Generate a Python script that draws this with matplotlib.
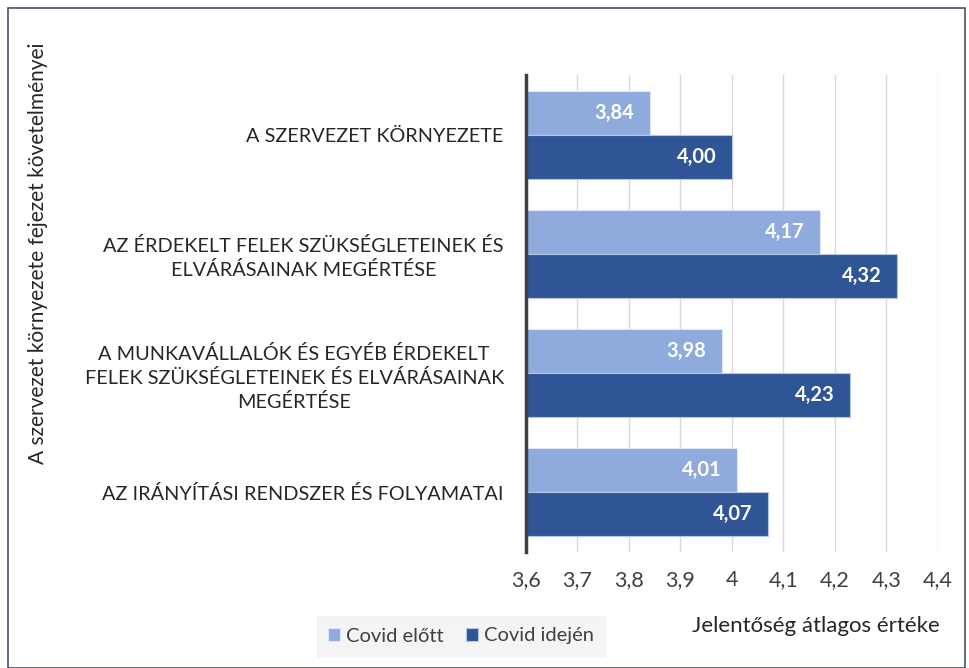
import numpy as np
import matplotlib.pyplot as plt
from matplotlib.patches import Rectangle

plt.rcParams['font.family'] = ['Lato', 'DejaVu Sans']

categories = ["A SZERVEZET KÖRNYEZETE",
              "AZ ÉRDEKELT FELEK SZÜKSÉGLETEINEK ÉS\nELVÁRÁSAINAK MEGÉRTÉSE",
              "A MUNKAVÁLLALÓK ÉS EGYÉB ÉRDEKELT\nFELEK SZÜKSÉGLETEINEK ÉS ELVÁRÁSAINAK\nMEGÉRTÉSE",
              "AZ IRÁNYÍTÁSI RENDSZER ÉS FOLYAMATAI"]
beforeCovid = [3.84, 4.17, 3.98, 4.01]
duringCovid = [4.00, 4.32, 4.23, 4.07]
xticks = [3.6, 3.7, 3.8, 3.9, 4.0, 4.1, 4.2, 4.3, 4.4]
xtickLabels = ["3,6", "3,7", "3,8", "3,9", "4", "4,1", "4,2", "4,3", "4,4"]

lightBlue = '#8faadc'
darkBlue = '#2f5597'
textColor = '#404040'

fig = plt.figure(figsize=(9.7, 6.68), dpi=100)
ax = fig.add_axes([526/970, 1-552/668, 412/970, 477/668])

y = np.arange(len(categories))
h = 0.37
ax.barh(y - h/2, beforeCovid, height=h, left=0, color=lightBlue, edgecolor='#dde6f5', linewidth=0.8, label='Covid előtt')
ax.barh(y + h/2, duringCovid, height=h, left=0, color=darkBlue, edgecolor='#b4c7e7', linewidth=0.8, label='Covid idején')

# value labels inside the bar ends
for i in range(len(categories)):
    ax.text(beforeCovid[i] - 0.03, y[i] - h/2, f"{beforeCovid[i]:.2f}".replace('.', ','),
            ha='right', va='center', color='white', fontsize=14.5, fontweight='bold')
    ax.text(duringCovid[i] - 0.03, y[i] + h/2, f"{duringCovid[i]:.2f}".replace('.', ','),
            ha='right', va='center', color='white', fontsize=14.5, fontweight='bold')

ax.set_xlim(3.6, 4.4)
ax.set_ylim(3.5, -0.5)
ax.set_xticks(xticks)
ax.set_xticklabels(xtickLabels, fontsize=15.5, color=textColor)
ax.tick_params(axis='x', length=0, pad=13)
ax.set_yticks(y)
ax.set_yticklabels(categories, fontsize=14.3, color='#262626', multialignment='center', linespacing=1.4)
ax.tick_params(axis='y', length=0, pad=16)
ax.grid(axis='x', color='#d9d9d9', linewidth=1)
ax.set_axisbelow(True)
for s in ['top', 'right', 'bottom']:
    ax.spines[s].set_visible(False)
ax.spines['left'].set_color('#404040')
ax.spines['left'].set_linewidth(2.5)

# figure border
fig.patches.append(Rectangle((8/970, 0.0), 957/970, 1 - 8/668, transform=fig.transFigure,
                             fill=False, edgecolor='#44546a', linewidth=1.2))

fig.text(38/970, 1 - 253/668, "A szervezet környezete fejezet követelményei", rotation=90,
         ha='center', va='center', fontsize=15, color='#262626')
fig.text(816/970, 1 - 626/668, "Jelentőség átlagos értéke", ha='center', va='center',
         fontsize=16, color='#262626')

leg = fig.legend(loc='center', bbox_to_anchor=(461/970, 1 - 636/668), ncol=2, frameon=True,
                 fontsize=14.5, handlelength=0.6, handleheight=0.6, handletextpad=0.3,
                 columnspacing=1.1, fancybox=False, borderpad=0.55)
leg.get_frame().set_facecolor('#f2f2f2')
leg.get_frame().set_edgecolor('#f2f2f2')
for t in leg.get_texts():
    t.set_color(textColor)

fig.savefig('out.png', dpi=100)
